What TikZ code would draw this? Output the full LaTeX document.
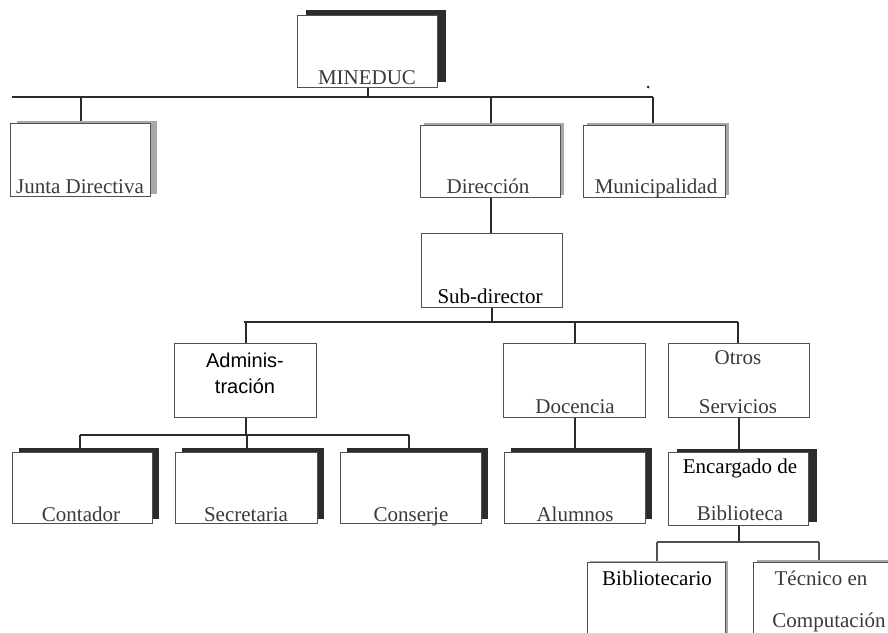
\documentclass[tikz,border=0pt]{standalone}
\usepackage{fontspec}
\setmainfont{Liberation Serif}
\newfontfamily\sansf{Liberation Sans}
\usetikzlibrary{shadows,backgrounds}
\definecolor{ink}{HTML}{3A3A3A}
\definecolor{edgec}{HTML}{505050}
\definecolor{darksh}{HTML}{2C2C2C}
\definecolor{lightsh}{HTML}{A8A8A8}
\definecolor{connc}{HTML}{2A2A2A}
\tikzset{
  orgbox/.style={draw=edgec, line width=1.3pt, fill=white, inner sep=0pt, anchor=north west},
  dsh/.style 2 args={general shadow={fill=darksh, shadow xshift=#1, shadow yshift=#2}},
  lsh/.style 2 args={general shadow={fill=lightsh, shadow xshift=#1, shadow yshift=#2}},
  lbl/.style={anchor=base, inner sep=0pt, text=ink, font=\fontsize{21pt}{25pt}\selectfont},
  lblk/.style={lbl, text=black},
  conn/.style={draw=connc, line width=2pt}
}
\begin{document}
\begin{tikzpicture}[x=1pt,y=-1pt]
\useasboundingbox (0,0) rectangle (888,632);
% boxes
\node[orgbox, dsh={8pt}{6pt}, minimum width=140pt, minimum height=72pt] (mineduc) at (297,15) {};
\node[orgbox, lsh={6pt}{3pt}, minimum width=140pt, minimum height=73pt] (junta) at (10,123) {};
\node[orgbox, lsh={3pt}{3pt}, minimum width=140pt, minimum height=72pt] (direccion) at (420,125) {};
\node[orgbox, lsh={3pt}{3pt}, minimum width=142pt, minimum height=72pt] (municip) at (583,125) {};
\node[orgbox, minimum width=141pt, minimum height=74pt] (subdir) at (421,233) {};
\node[orgbox, minimum width=142pt, minimum height=74pt] (admin) at (174,343) {};
\node[orgbox, minimum width=142pt, minimum height=74pt] (docencia) at (503,343) {};
\node[orgbox, minimum width=141pt, minimum height=74pt] (otros) at (668,343) {};
\node[orgbox, dsh={6pt}{4.5pt}, minimum width=140pt, minimum height=71pt] (contador) at (12,452) {};
\node[orgbox, dsh={6pt}{4.5pt}, minimum width=142pt, minimum height=71pt] (secretaria) at (175,452) {};
\node[orgbox, dsh={6pt}{4.5pt}, minimum width=141pt, minimum height=71pt] (conserje) at (340,452) {};
\node[orgbox, dsh={6pt}{4.5pt}, minimum width=141pt, minimum height=71pt] (alumnos) at (504,452) {};
\node[orgbox, dsh={8pt}{4pt}, minimum width=140pt, minimum height=73pt] (encargado) at (668,452) {};
\node[orgbox, lsh={2pt}{2pt}, minimum width=138pt, minimum height=90pt] (biblio) at (587,562) {};
\node[orgbox, lsh={3pt}{3pt}, minimum width=150pt, minimum height=90pt] (tecnico) at (753,562) {};
% labels
\node[lbl] (l-mineduc) at (367,84) {MINEDUC};
\node[lbl] (l-junta) at (80,193) {Junta Directiva};
\node[lbl] (l-direccion) at (488,193) {Dirección};
\node[lbl] (l-municip) at (656,193) {Municipalidad};
\node[lblk] (l-subdir) at (490,303) {Sub-director};
\node[lblk, font=\sansf\fontsize{20pt}{24pt}\selectfont] (l-admin1) at (245,367) {Adminis-};
\node[lblk, font=\sansf\fontsize{20pt}{24pt}\selectfont] (l-admin2) at (245,393) {tración};
\node[lbl] (l-docencia) at (575,413) {Docencia};
\node[lbl] (l-otros1) at (738,364) {Otros};
\node[lbl] (l-otros2) at (738,413) {Servicios};
\node[lbl] (l-contador) at (81,521) {Contador};
\node[lbl] (l-secretaria) at (246,521) {Secretaria};
\node[lbl] (l-conserje) at (411,521) {Conserje};
\node[lbl] (l-alumnos) at (575,521) {Alumnos};
\node[lblk] (l-encargado1) at (740,473) {Encargado de};
\node[lbl] (l-encargado2) at (740,520) {Biblioteca};
\node[lblk] (l-biblio) at (657,585) {Bibliotecario};
\node[lbl] (l-tecnico1) at (821,585) {Técnico en};
\node[lbl] (l-tecnico2) at (829,627) {Computación};
% scan speck
\fill[connc] (648,87) circle (1.5pt);
% connectors
\coordinate (busAl) at (12,97);
\coordinate (busAr) at (653,97);
\coordinate (busBl) at (244,322);
\coordinate (busBr) at (738,322);
\coordinate (busCl) at (80,435);
\coordinate (busCr) at (409,435);
\coordinate (busDl) at (657,542);
\coordinate (busDr) at (819,542);
\begin{scope}[on background layer]
\draw[conn] (mineduc.south) -- (mineduc.south |- busAl);
\draw[conn] (busAl) -- (busAr);
\draw[conn] (junta.north |- busAl) -- (junta.north);
\draw[conn] (direccion.north |- busAl) -- (direccion.north);
\draw[conn] (busAr) -- (busAr |- municip.north);
\draw[conn] (direccion.south) -- (direccion.south |- subdir.north);
\draw[conn] (subdir.south) -- (subdir.south |- busBl);
\draw[conn] (busBl) -- (busBr);
\draw[conn] (admin.north |- busBl) -- (admin.north);
\draw[conn] (docencia.north |- busBl) -- (docencia.north);
\draw[conn] (busBr) -- (busBr |- otros.north);
\draw[conn] (admin.south) -- (admin.south |- busCl);
\draw[conn] (busCl) -- (busCr);
\draw[conn] (busCl) -- (busCl |- contador.north);
\draw[conn] (secretaria.north |- busCl) -- (secretaria.north);
\draw[conn] (busCr) -- (busCr |- conserje.north);
\draw[conn] (docencia.south) -- (docencia.south |- alumnos.north);
\draw[conn] (otros.south) -- (otros.south |- encargado.north);
\draw[conn] (encargado.south) -- (encargado.south |- busDl);
\draw[conn, line width=1.5pt, draw=edgec] (busDl) -- (busDr);
\draw[conn, line width=1.5pt, draw=edgec] (busDl) -- (busDl |- biblio.north);
\draw[conn, line width=1.5pt, draw=edgec] (busDr) -- (busDr |- tecnico.north);
\end{scope}
\end{tikzpicture}
\end{document}
